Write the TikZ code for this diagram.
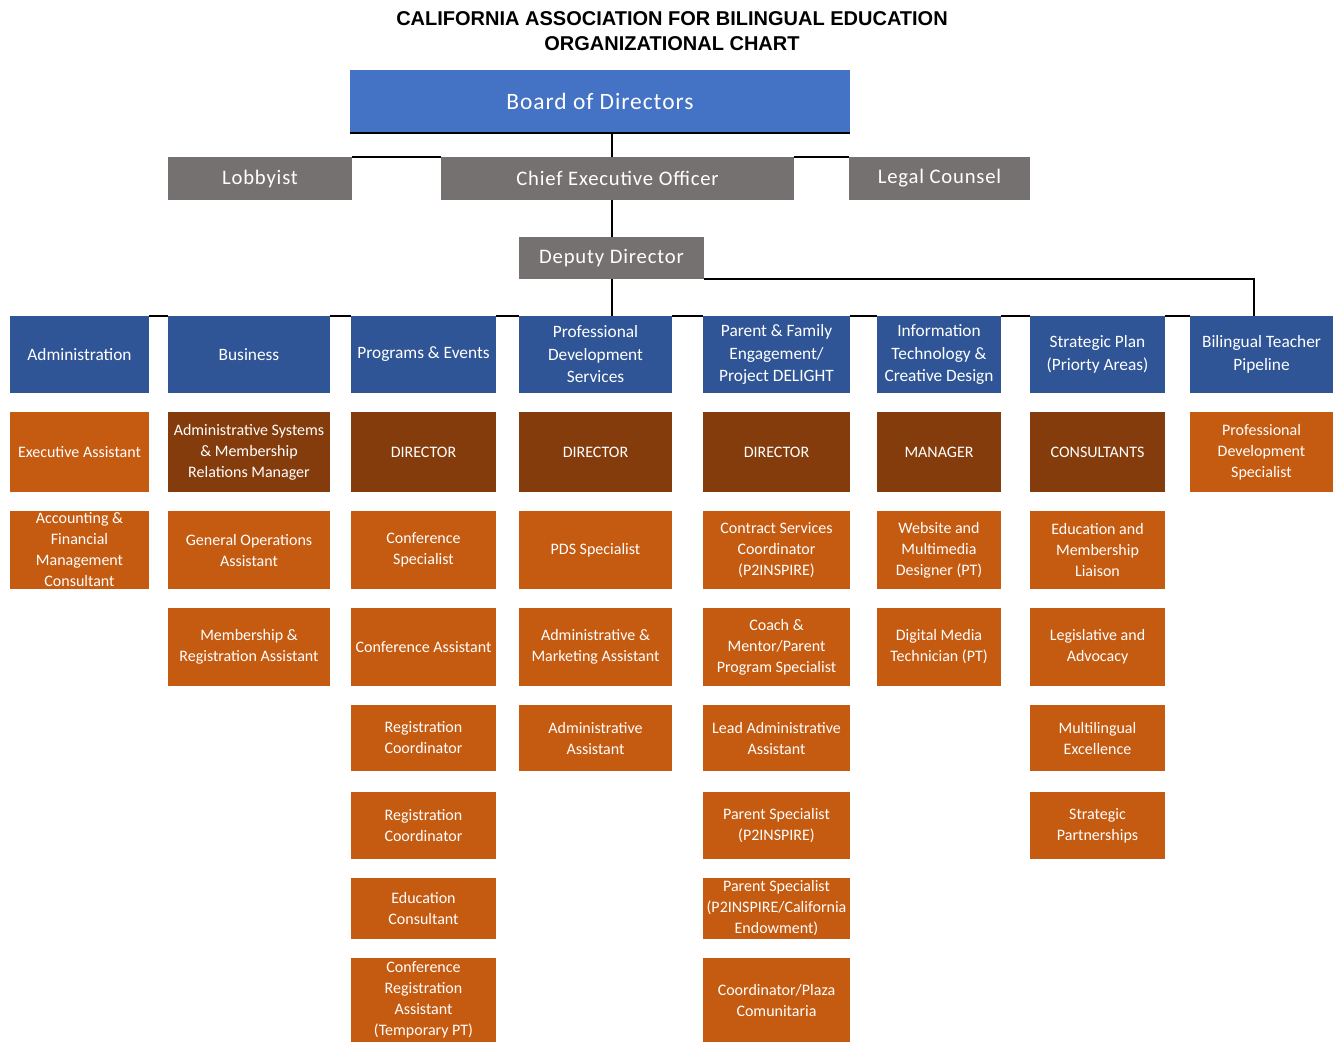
\documentclass[tikz,border=0pt]{standalone}
\usepackage{fontspec}
\setmainfont{Carlito}
\newfontfamily\titlefont{Liberation Sans}
\newfontfamily\spacedfont[LetterSpace=4]{Carlito}
\definecolor{topblue}{HTML}{4472C4}
\definecolor{deptblue}{HTML}{2F5597}
\definecolor{grayc}{HTML}{767171}
\definecolor{brownc}{HTML}{843C0C}
\definecolor{orangec}{HTML}{C55A11}
\newcommand\orgbox[7]{%
  \pgfmathsetmacro\obw{(#5-#3)*0.75}%
  \pgfmathsetmacro\obh{(#6-#4)*0.75}%
  \node[#2, minimum width=\obw pt, minimum height=\obh pt] (#1) at ({(#3+#5)/2},{(#4+#6)/2}) {#7};}
\tikzset{
  orgbase/.style={rectangle, inner sep=0pt, align=center, text=white},
  topbox/.style={orgbase, fill=topblue, font=\spacedfont\fontsize{17.6}{20}\selectfont},
  graybox/.style={orgbase, fill=grayc, font=\spacedfont\fontsize{15.5}{18}\selectfont},
  deptbox/.style={orgbase, fill=deptblue, font=\fontsize{13}{16.9}\selectfont},
  mgrbox/.style={orgbase, fill=brownc, font=\fontsize{12}{15.75}\selectfont},
  subbox/.style={orgbase, fill=orangec, font=\fontsize{12}{15.75}\selectfont},
  conn/.style={draw=black, line width=1.5pt},
}
\begin{document}
\begin{tikzpicture}[x=0.75pt,y=-0.75pt]
\useasboundingbox[fill=white] (0,0) rectangle (1337,1042);
\node[font=\titlefont\bfseries\fontsize{15}{18.75}\selectfont, align=center, inner sep=0pt] (title) at (672,31)
  {CALIFORNIA ASSOCIATION FOR BILINGUAL EDUCATION\\ORGANIZATIONAL CHART};
% top levels
\orgbox{board}{topbox}{350}{70}{850}{133}{Board of Directors}
\orgbox{lob}{graybox}{168}{157}{352}{200}{Lobbyist}
\orgbox{ceo}{graybox}{441}{157}{794}{200}{Chief Executive Officer}
\orgbox{legal}{graybox}{849}{157}{1030}{200}{Legal Counsel}
\orgbox{dep}{graybox}{519}{237}{704}{279}{Deputy Director}
% departments
\orgbox{adm}{deptbox}{10}{316}{149}{393}{Administration}
\orgbox{bus}{deptbox}{168}{316}{330}{393}{Business}
\orgbox{prg}{deptbox}{351}{316}{496}{393}{Programs \& Events}
\orgbox{pds}{deptbox}{519}{316}{672}{393}{Professional\\Development\\Services}
\orgbox{pfe}{deptbox}{703}{316}{850}{393}{Parent \& Family\\Engagement/\\Project DELIGHT}
\orgbox{itc}{deptbox}{877}{316}{1001}{393}{Information\\Technology \&\\Creative Design}
\orgbox{spl}{deptbox}{1030}{316}{1165}{393}{Strategic Plan\\(Priorty Areas)}
\orgbox{btp}{deptbox}{1190}{316}{1333}{393}{Bilingual Teacher\\Pipeline}
% Administration column
\orgbox{adm1}{subbox}{10}{412}{149}{492}{Executive Assistant}
\orgbox{adm2}{subbox}{10}{511}{149}{589}{Accounting \&\\Financial\\Management\\Consultant}
% Business column
\orgbox{bus1}{mgrbox}{168}{412}{330}{492}{Administrative Systems\\\& Membership\\Relations Manager}
\orgbox{bus2}{subbox}{168}{511}{330}{589}{General Operations\\Assistant}
\orgbox{bus3}{subbox}{168}{608}{330}{686}{Membership \&\\Registration Assistant}
% Programs column
\orgbox{prg1}{mgrbox}{351}{412}{496}{492}{DIRECTOR}
\orgbox{prg2}{subbox}{351}{511}{496}{589}{Conference\\Specialist}
\orgbox{prg3}{subbox}{351}{608}{496}{686}{Conference Assistant}
\orgbox{prg4}{subbox}{351}{705}{496}{771}{Registration\\Coordinator}
\orgbox{prg5}{subbox}{351}{792}{496}{859}{Registration\\Coordinator}
\orgbox{prg6}{subbox}{351}{878}{496}{939}{Education\\Consultant}
\orgbox{prg7}{subbox}{351}{958}{496}{1042}{Conference\\Registration\\Assistant\\(Temporary PT)}
% PDS column
\orgbox{pds1}{mgrbox}{519}{412}{672}{492}{DIRECTOR}
\orgbox{pds2}{subbox}{519}{511}{672}{589}{PDS Specialist}
\orgbox{pds3}{subbox}{519}{608}{672}{686}{Administrative \&\\Marketing Assistant}
\orgbox{pds4}{subbox}{519}{705}{672}{771}{Administrative\\Assistant}
% Parent column
\orgbox{pfe1}{mgrbox}{703}{412}{850}{492}{DIRECTOR}
\orgbox{pfe2}{subbox}{703}{511}{850}{589}{Contract Services\\Coordinator\\(P2INSPIRE)}
\orgbox{pfe3}{subbox}{703}{608}{850}{686}{Coach \&\\Mentor/Parent\\Program Specialist}
\orgbox{pfe4}{subbox}{703}{705}{850}{771}{Lead Administrative\\Assistant}
\orgbox{pfe5}{subbox}{703}{792}{850}{859}{Parent Specialist\\(P2INSPIRE)}
\orgbox{pfe6}{subbox}{703}{878}{850}{939}{Parent Specialist\\(P2INSPIRE/California\\Endowment)}
\orgbox{pfe7}{subbox}{703}{958}{850}{1042}{Coordinator/Plaza\\Comunitaria}
% IT column
\orgbox{itc1}{mgrbox}{877}{412}{1001}{492}{MANAGER}
\orgbox{itc2}{subbox}{877}{511}{1001}{589}{Website and\\Multimedia\\Designer (PT)}
\orgbox{itc3}{subbox}{877}{608}{1001}{686}{Digital Media\\Technician (PT)}
% Strategic column
\orgbox{spl1}{mgrbox}{1030}{412}{1165}{492}{CONSULTANTS}
\orgbox{spl2}{subbox}{1030}{511}{1165}{589}{Education and\\Membership\\Liaison}
\orgbox{spl3}{subbox}{1030}{608}{1165}{686}{Legislative and\\Advocacy}
\orgbox{spl4}{subbox}{1030}{705}{1165}{771}{Multilingual\\Excellence}
\orgbox{spl5}{subbox}{1030}{792}{1165}{859}{Strategic\\Partnerships}
% Bilingual column
\orgbox{btp1}{subbox}{1190}{412}{1333}{492}{Professional\\Development\\Specialist}
% connectors
\draw[conn] (board.south west) -- (board.south east);
\draw[conn] (dep.north |- board.south) -- (dep.north |- ceo.north);
\draw[conn] (lob.north east) -- (ceo.north west);
\draw[conn] (ceo.north east) -- (legal.north west);
\draw[conn] (dep.north |- ceo.south) -- (dep.north);
\draw[conn] (dep.south) -- (dep.south |- pds.north);
\draw[conn] (dep.south east) -| ([xshift=-5.5pt]btp.north);
\draw[conn] (adm.north east) -- (bus.north west);
\draw[conn] (bus.north east) -- (prg.north west);
\draw[conn] (prg.north east) -- (pds.north west);
\draw[conn] (pds.north east) -- (pfe.north west);
\draw[conn] (pfe.north east) -- (itc.north west);
\draw[conn] (itc.north east) -- (spl.north west);
\draw[conn] (spl.north east) -- (btp.north west);
\end{tikzpicture}
\end{document}
